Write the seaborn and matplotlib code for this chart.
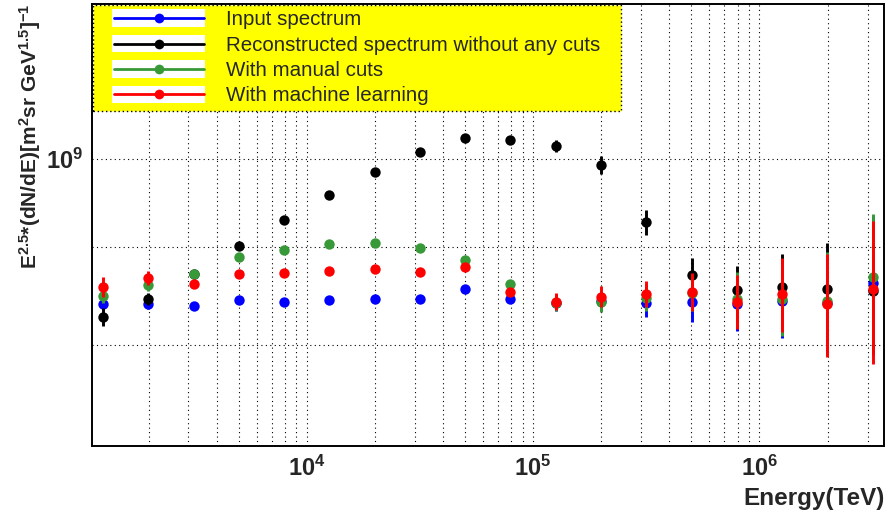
import matplotlib
matplotlib.use("Agg")
import numpy as np
import pandas as pd
import seaborn as sns
import matplotlib.pyplot as plt
from matplotlib.legend_handler import HandlerBase
from matplotlib.lines import Line2D
from matplotlib.patches import Rectangle
from matplotlib.ticker import LogLocator, NullFormatter, FuncFormatter

# ---------------- data ----------------
energy = [1259, 1995, 3162, 5012, 7943, 12589, 19953, 31623, 50119, 79433,
          125893, 199526, 316228, 501187, 794328, 1258925, 1995262, 3162278]

input_flux = [8.404e8, 8.407e8, 8.387e8, 8.448e8, 8.424e8, 8.445e8, 8.452e8, 8.458e8, 8.553e8,
              8.458e8, 8.414e8, 8.434e8, 8.417e8, 8.421e8, 8.404e8, 8.430e8, 8.414e8, 8.621e8]
input_err = [3.0e6, 5.0e6, 3.0e6, 3.0e6, 3.0e6, 3.0e6, 3.0e6, 3.0e6, 3.0e6,
             3.0e6, 8.0e6, 1.0e7, 1.42e7, 1.96e7, 2.70e7, 3.65e7, 5.05e7, 7.2e7]

reco_flux = [8.276e8, 8.452e8, 8.710e8, 9.010e8, 9.297e8, 9.580e8, 9.843e8, 1.0092e9, 1.0255e9,
             1.0238e9, 1.0165e9, 9.932e8, 9.271e8, 8.702e8, 8.543e8, 8.574e8, 8.553e8, 8.539e8]
reco_err = [8.95e6, 6.1e6, 3.1e6, 3.2e6, 3.4e6, 3.5e6, 3.5e6, 3.6e6, 4.3e6,
            4.9e6, 7.3e6, 1.04e7, 1.39e7, 1.81e7, 2.52e7, 3.50e7, 4.89e7, 6.16e7]

manual_flux = [8.482e8, 8.598e8, 8.712e8, 8.896e8, 8.968e8, 9.032e8, 9.046e8, 8.986e8, 8.861e8,
               8.605e8, 8.412e8, 8.427e8, 8.463e8, 8.516e8, 8.455e8, 8.455e8, 8.437e8, 8.677e8]
manual_err = [7.1e6, 6.2e6, 3.2e6, 3.2e6, 3.2e6, 3.2e6, 3.2e6, 3.2e6, 3.2e6,
              4.1e6, 8.1e6, 1.01e7, 1.32e7, 1.84e7, 2.74e7, 3.66e7, 5.07e7, 6.91e7]

ml_flux = [8.580e8, 8.667e8, 8.608e8, 8.709e8, 8.726e8, 8.744e8, 8.765e8, 8.730e8, 8.783e8,
           8.523e8, 8.427e8, 8.478e8, 8.505e8, 8.523e8, 8.424e8, 8.505e8, 8.404e8, 8.553e8]
ml_err = [1.03e7, 7.3e6, 3.1e6, 3.1e6, 3.1e6, 3.1e6, 3.1e6, 3.1e6, 3.1e6,
          4.1e6, 8.4e6, 1.09e7, 1.33e7, 1.95e7, 2.73e7, 3.78e7, 5.20e7, 7.30e7]

labels = ["Input spectrum", "Reconstructed spectrum without any cuts",
          "With manual cuts", "With machine learning"]
colors = ["#0000ff", "#000000", "#379937", "#ff0000"]

# ---------------- style ----------------
sns.set_style("white")
plt.rcParams["font.family"] = ["Liberation Sans", "DejaVu Sans"]
plt.rcParams["mathtext.default"] = "regular"
plt.rcParams["font.weight"] = "bold"

fig = plt.figure(figsize=(8.89, 5.21), dpi=100)
ax = fig.add_axes([0.10315, 0.14395, 0.89123, 0.84837])
ax.set_xscale("log")
ax.set_yscale("log")

series = [(input_flux, input_err), (reco_flux, reco_err),
          (manual_flux, manual_err), (ml_flux, ml_err)]
for i, ((flux, err), col, lab) in enumerate(zip(series, colors, labels)):
    z = 3 + 2 * i
    ax.errorbar(energy, flux, yerr=err, fmt="none", ecolor=col,
                elinewidth=2.1, capsize=0, zorder=z)
    df = pd.DataFrame({"E": energy, "F": flux})
    sns.scatterplot(data=df, x="E", y="F", color=col, s=56, linewidth=0,
                    ax=ax, zorder=z + 0.5, legend=False)

ax.set_xlim(10 ** 3.05, 10 ** 6.55)
ax.set_ylim(7.085e8, 1.205e9)

ax.xaxis.set_major_locator(LogLocator(base=10, numticks=20))
ax.xaxis.set_minor_locator(LogLocator(base=10, subs=np.arange(2, 10), numticks=40))
ax.yaxis.set_major_locator(LogLocator(base=10, numticks=20))
ax.yaxis.set_minor_locator(LogLocator(base=10, subs=np.arange(2, 10), numticks=40))
fmt = FuncFormatter(lambda v, p: r"$10^{%d}$" % int(round(np.log10(v))))
ax.xaxis.set_major_formatter(fmt)
ax.yaxis.set_major_formatter(fmt)
ax.xaxis.set_minor_formatter(NullFormatter())
ax.yaxis.set_minor_formatter(NullFormatter())

ax.tick_params(axis="both", which="both", direction="in", color="black",
               top=False, right=False, labelsize=17, width=1.0)
ax.tick_params(axis="x", which="major", length=8.5, pad=7)
ax.tick_params(axis="x", which="minor", length=5)
ax.tick_params(axis="y", which="major", length=15.5, pad=6)
ax.tick_params(axis="y", which="minor", length=7)

ax.set_axisbelow(True)
ax.grid(True, which="both", axis="both", color="black",
        linestyle=(0, (1, 3)), linewidth=0.8)
for sp in ax.spines.values():
    sp.set_color("black")
    sp.set_linewidth(1.4)
ax.set_xlabel("")
ax.set_ylabel("")

fig.text(30 / 889, 1 - 4 / 521,
         r"E$^{2.5}$*(dN/dE)[m$^{2}$sr GeV$^{1.5}$]$^{-1}$",
         rotation=90, ha="center", va="top", fontsize=15, fontweight="bold")
fig.text(885 / 889, 1 - 499 / 521, "Energy(TeV)", ha="right", va="center",
         fontsize=17.5, fontweight="bold")


# ---------------- legend ----------------
class BoxedHandler(HandlerBase):
    def create_artists(self, legend, orig_handle, xdescent, ydescent,
                       width, height, fontsize, trans):
        x0 = -xdescent + 0.13 * width
        x1 = -xdescent + width
        yc = -ydescent + height / 2
        rh = 12.5
        rect = Rectangle((x0, yc - rh / 2), x1 - x0, rh, facecolor="white",
                         edgecolor="none", transform=trans)
        col = orig_handle.get_color()
        line = Line2D([x0 + 1, x1 - 1], [yc, yc], color=col, lw=2.0,
                      transform=trans)
        mk = Line2D([(x0 + x1) / 2], [yc], marker="o", markersize=7,
                    markeredgewidth=0, color=col, linestyle="none",
                    transform=trans)
        return [rect, line, mk]


handles = [Line2D([], [], color=c) for c in colors]
leg = ax.legend(handles, labels, loc="upper left",
                bbox_to_anchor=(0.0016, 0.767, 0.6664, 0.2307), mode="expand",
                borderaxespad=0, borderpad=0.26, labelspacing=0.31,
                handlelength=5.2, handletextpad=1.0, frameon=True,
                fancybox=False, framealpha=1,
                prop={"family": ["Liberation Sans", "DejaVu Sans"],
                      "weight": "normal", "size": 14.8},
                handler_map={Line2D: BoxedHandler()})
frame = leg.get_frame()
frame.set_facecolor("#ffff00")
frame.set_edgecolor("black")
frame.set_linestyle((0, (1, 2)))
frame.set_linewidth(1.0)
leg.set_zorder(20)

fig.savefig("out.png", dpi=100)
